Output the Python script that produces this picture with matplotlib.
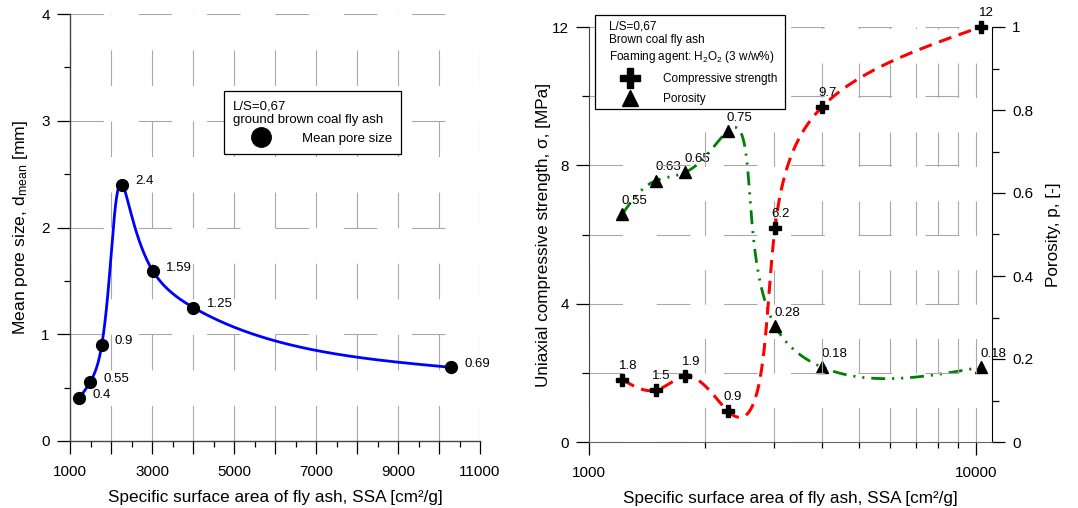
import numpy as np
import matplotlib
matplotlib.use('Agg')
import matplotlib.pyplot as plt
from matplotlib.lines import Line2D
from matplotlib.patches import Rectangle
from matplotlib.transforms import IdentityTransform
from matplotlib.ticker import MultipleLocator, FixedLocator, FuncFormatter, NullFormatter

plt.rcParams['font.family'] = ['Liberation Sans', 'DejaVu Sans']
plt.rcParams['mathtext.fontset'] = 'custom'
plt.rcParams['mathtext.rm'] = 'Liberation Sans'
plt.rcParams['mathtext.it'] = 'Liberation Sans:italic'
plt.rcParams['lines.scale_dashes'] = False

# ---------------- data ----------------
ssa = [1220, 1490, 1775, 2280, 3025, 4010, 10290]
pore_size = [0.4, 0.55, 0.9, 2.4, 1.59, 1.25, 0.69]
strength = [1.8, 1.5, 1.9, 0.9, 6.2, 9.7, 12]
porosity = [0.55, 0.63, 0.65, 0.75, 0.28, 0.18, 0.18]
pore_labels = ['0.4', '0.55', '0.9', '2.4', '1.59', '1.25', '0.69']
strength_labels = ['1.8', '1.5', '1.9', '0.9', '6.2', '9.7', '12']
porosity_labels = ['0.55', '0.63', '0.65', '0.75', '0.28', '0.18', '0.18']
left_xticks = [1000, 3000, 5000, 7000, 9000, 11000]


def nat_spline_1d(t, y, ts):
    m = len(t)
    h = np.diff(t)
    A = np.zeros((m, m))
    b = np.zeros(m)
    A[0, 0] = 1
    A[-1, -1] = 1
    for i in range(1, m - 1):
        A[i, i - 1] = h[i - 1]
        A[i, i] = 2 * (h[i - 1] + h[i])
        A[i, i + 1] = h[i]
        b[i] = 6 * ((y[i + 1] - y[i]) / h[i] - (y[i] - y[i - 1]) / h[i - 1])
    M = np.linalg.solve(A, b)
    idx = np.clip(np.searchsorted(t, ts) - 1, 0, m - 2)
    t0, t1 = t[idx], t[idx + 1]
    hh = t1 - t0
    a = (t1 - ts) / hh
    c = (ts - t0) / hh
    return (a * y[idx] + c * y[idx + 1]
            + ((a ** 3 - a) * M[idx] + (c ** 3 - c) * M[idx + 1]) * hh ** 2 / 6)


def screen_spline(ax, x, y, n=800):
    """Parametric natural cubic spline through the points, in screen space."""
    pts = ax.transData.transform(np.column_stack([x, y]))
    d = np.sqrt((np.diff(pts, axis=0) ** 2).sum(axis=1))
    t = np.concatenate([[0], np.cumsum(d)])
    ts = np.linspace(0, t[-1], n)
    px = nat_spline_1d(t, pts[:, 0], ts)
    py = nat_spline_1d(t, pts[:, 1], ts)
    back = ax.transData.inverted().transform(np.column_stack([px, py]))
    return back[:, 0], back[:, 1]


W, H = 1078, 508
fig = plt.figure(figsize=(W / 100, H / 100), dpi=100)
GRID = '#a8a8a8'
SPINE = '#444444'
LABEL_FS = 12.3

# ---------------- left chart ----------------
ax1 = fig.add_axes([70 / W, (H - 441) / H, 410 / W, 427 / H])
ax1.set_xlim(1000, 11000)
ax1.set_ylim(0, 4)
ax1.set_axisbelow(True)
ax1.xaxis.set_major_locator(MultipleLocator(1000))
ax1.xaxis.set_minor_locator(MultipleLocator(500))
ax1.xaxis.set_major_formatter(FuncFormatter(
    lambda v, p: f'{int(round(v))}' if int(round(v)) in left_xticks else ''))
ax1.yaxis.set_major_locator(MultipleLocator(1))
ax1.yaxis.set_minor_locator(MultipleLocator(0.5))
ax1.yaxis.set_major_formatter(FuncFormatter(lambda v, p: f'{v:g}'))
ax1.xaxis.grid(True, which='major', color=GRID, lw=0.8, linestyle=(0, (25.6, 25.6)))
ax1.yaxis.grid(True, which='major', color=GRID, lw=0.8, linestyle=(0, (24, 25.2)))
for s in ['top', 'right']:
    ax1.spines[s].set_visible(False)
for s in ['left', 'bottom']:
    ax1.spines[s].set_color(SPINE)
    ax1.spines[s].set_linewidth(1.0)
ax1.tick_params(which='major', length=9.5, width=0.9, labelsize=11, color='black', pad=5)
ax1.tick_params(which='minor', length=4.5, width=0.9, color='black')
ax1.tick_params(axis='x', which='major', length=9, pad=8)
ax1.tick_params(axis='x', which='minor', length=4)

xs, ys = screen_spline(ax1, ssa, pore_size)
ax1.plot(xs, ys, color='#0000ff', lw=2.0, zorder=3)
ax1.plot(ssa, pore_size, 'o', color='black', ms=8.5, zorder=4, clip_on=False)
for xv, yv, lab in zip(ssa, pore_size, pore_labels):
    ax1.annotate(lab, (xv, yv), xytext=(9.5, 2.5), textcoords='offset points',
                 ha='left', va='center', fontsize=9.5, zorder=5)

ax1.set_xlabel('Specific surface area of fly ash, SSA [cm²/g]', fontsize=LABEL_FS, labelpad=8)
ax1.set_ylabel('Mean pore size, d$_{\\mathrm{mean}}$ [mm]', fontsize=12.6, labelpad=8)

h1 = Line2D([], [], marker='o', color='black', ls='none', ms=14)
leg1 = ax1.legend([h1], ['Mean pore size'],
                  title='L/S=0,67\nground brown coal fly ash',
                  alignment='left', fontsize=9.5, title_fontsize=9.5,
                  loc='upper left', bbox_to_anchor=((224 - 70) / 410, (441 - 91) / 427),
                  borderaxespad=0, fancybox=False, framealpha=1, edgecolor='black',
                  handlelength=4.2, handletextpad=1.0, borderpad=0.7)
leg1.get_frame().set_linewidth(0.9)

# ---------------- right chart ----------------
ax2 = fig.add_axes([589 / W, (H - 442) / H, 403 / W, 415 / H])
ax3 = ax2.twinx()
ax2.set_zorder(ax3.get_zorder() + 1)
ax2.patch.set_visible(False)
ax2.set_xscale('log')
ax2.set_xlim(1000, 11000)
ax2.set_ylim(0, 12)
ax3.set_ylim(0, 1)
ax2.set_axisbelow(True)
ax2.xaxis.set_major_locator(FixedLocator([1000, 10000]))
ax2.xaxis.set_minor_locator(FixedLocator([2000, 3000, 4000, 5000, 6000, 7000, 8000, 9000]))
ax2.xaxis.set_major_formatter(FuncFormatter(lambda v, p: f'{int(round(v))}'))
ax2.xaxis.set_minor_formatter(NullFormatter())
ax2.yaxis.set_major_locator(MultipleLocator(4))
ax2.yaxis.set_minor_locator(MultipleLocator(2))
ax2.yaxis.set_major_formatter(FuncFormatter(lambda v, p: f'{v:g}'))
ax3.yaxis.set_major_locator(MultipleLocator(0.2))
ax3.yaxis.set_minor_locator(MultipleLocator(0.1))
ax3.yaxis.set_major_formatter(FuncFormatter(lambda v, p: f'{v:g}'))
ax2.xaxis.grid(True, which='both', color=GRID, lw=0.8, linestyle=(0, (24.8, 24.8)))
ax2.yaxis.grid(True, which='both', color=GRID, lw=0.8, linestyle=(0, (24.2, 24.2)))
for a in (ax2, ax3):
    a.spines['top'].set_visible(False)
ax2.spines['right'].set_visible(False)
ax3.spines['left'].set_visible(False)
ax3.spines['bottom'].set_visible(False)
ax2.spines['left'].set_color(SPINE)
ax2.spines['bottom'].set_color('#666666')
ax3.spines['right'].set_color('black')
for a in (ax2, ax3):
    a.tick_params(which='major', length=9.5, width=0.9, labelsize=11, color='black', pad=5)
    a.tick_params(which='minor', length=5, width=0.9, color='black')
ax2.tick_params(axis='x', which='major', length=9, pad=8)
ax2.tick_params(axis='x', which='minor', length=4.5)

xs, ys = screen_spline(ax3, ssa, porosity)
ax3.plot(xs, ys, color='#008000', lw=2.0,
         linestyle=(0, (10, 5, 1.5, 5, 1.5, 5)), zorder=2)
ax3.plot(ssa, porosity, '^', color='black', ms=9, zorder=3, clip_on=False)
for xv, yv, lab in zip(ssa, porosity, porosity_labels):
    ax3.annotate(lab, (xv, yv), xytext=(-0.5, 9.5), textcoords='offset points',
                 ha='left', va='center', fontsize=9.5)

xs, ys = screen_spline(ax2, ssa, strength)
ax2.plot(xs, ys, color='#ff0000', lw=2.2, linestyle=(0, (9.5, 5.5)), zorder=2)
ax2.plot(ssa, strength, 'P', color='black', ms=9, zorder=3, clip_on=False)
for xv, yv, lab in zip(ssa, strength, strength_labels):
    ax2.annotate(lab, (xv, yv), xytext=(4, 10), textcoords='offset points',
                 ha='center', va='center', fontsize=9.5)

ax2.set_xlabel('Specific surface area of fly ash, SSA [cm²/g]', fontsize=LABEL_FS, labelpad=8)
ax2.set_ylabel('Uniaxial compressive strength, σ, [MPa]', fontsize=LABEL_FS, labelpad=0.5)
ax3.set_ylabel('Porosity, p, [-]', fontsize=LABEL_FS, labelpad=9.5)

h2 = Line2D([], [], marker='P', color='black', ls='none', ms=14)
h3 = Line2D([], [], marker='^', color='black', ls='none', ms=12)
leg2 = ax2.legend([h2, h3], ['Compressive strength', 'Porosity'],
                  title='L/S=0,67\nBrown coal fly ash\nFoaming agent: H$_2$O$_2$ (3 w/w%)',
                  alignment='left', fontsize=8.5, title_fontsize=8.5,
                  loc='upper left',
                  bbox_to_anchor=((609 - 589) / 403, (442 - 20.5) / 415),
                  borderaxespad=0, frameon=False,
                  handlelength=3.5, handletextpad=1.1, borderpad=0.0,
                  labelspacing=0.7, handleheight=0.6)
leg2.set_zorder(6)

# frame for the right legend: wider left padding than the other sides
fig.canvas.draw()
bb = leg2.get_window_extent()
frame = Rectangle((bb.x0 - 14, bb.y0 - 4), bb.width + 21, bb.height + 10,
                  transform=IdentityTransform(), facecolor='white',
                  edgecolor='black', lw=0.9, zorder=5.5, clip_on=False)
ax2.add_patch(frame)

fig.savefig('out.png', dpi=100)
